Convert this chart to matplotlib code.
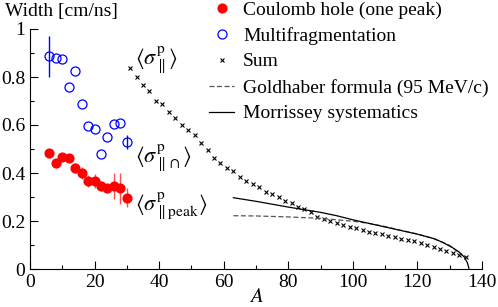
import numpy as np
import matplotlib
matplotlib.use("Agg")
from matplotlib import pyplot as plt
from matplotlib.ticker import MultipleLocator
from matplotlib.lines import Line2D

plt.rcParams['font.family'] = ['Liberation Serif', 'DejaVu Serif']
plt.rcParams['mathtext.fontset'] = 'stix'

# Coulomb hole (one peak)
A_peak = [6, 8, 10, 12, 14, 16, 18, 20, 22, 24, 26, 28, 30]
w_peak = [0.482, 0.440, 0.465, 0.461, 0.420, 0.401, 0.367, 0.367, 0.346, 0.336, 0.346, 0.336, 0.297]
e_peak = [0.02, 0.02, 0.01, 0.015, 0.02, 0.025, 0.025, 0.03, 0.02, 0.02, 0.055, 0.065, 0.04]

# Multifragmentation
A_multi = [6, 8, 10, 12, 14, 16, 18, 20, 22, 24, 26, 28, 30]
w_multi = [0.887, 0.880, 0.876, 0.760, 0.825, 0.686, 0.597, 0.582, 0.479, 0.550, 0.605, 0.610, 0.530]
e_multi = [0.085, 0.0, 0.0, 0.0, 0.0, 0.0, 0.0, 0.0, 0.0, 0.0, 0.0, 0.0, 0.03]

# Sum
A_sum = list(range(31, 136, 2))
w_sum = [0.836, 0.799, 0.768, 0.740, 0.702, 0.688, 0.656, 0.631, 0.600, 0.579,
         0.558, 0.527, 0.495, 0.464, 0.440, 0.420, 0.408, 0.382, 0.368, 0.354,
         0.340, 0.320, 0.312, 0.299, 0.285, 0.274, 0.260, 0.249, 0.238, 0.218,
         0.207, 0.199, 0.190, 0.182, 0.174, 0.169, 0.162, 0.155, 0.149, 0.145,
         0.139, 0.135, 0.125, 0.121, 0.117, 0.107, 0.100, 0.093, 0.083, 0.076,
         0.065, 0.058, 0.051]

# Goldhaber formula (95 MeV/c)
A_gold = [63, 70, 80, 90, 100, 105, 110, 115, 120, 125, 130, 134]
w_gold = [0.222, 0.221, 0.217, 0.211, 0.199, 0.190, 0.177, 0.161, 0.146, 0.127, 0.098, 0.055]

# Morrissey systematics
A_morr = [63, 70, 75, 80, 85, 90, 95, 100, 105, 110, 115, 120, 125, 128, 131, 133, 134.5, 135.5, 136]
w_morr = [0.297, 0.282, 0.270, 0.258, 0.247, 0.236, 0.222, 0.205, 0.190, 0.175, 0.160,
          0.145, 0.127, 0.110, 0.088, 0.070, 0.050, 0.025, 0.0]

labels = ['Coulomb hole (one peak)', 'Multifragmentation', 'Sum',
          'Goldhaber formula (95 MeV/c)', 'Morrissey systematics']

fig = plt.figure(figsize=(4.98, 3.07), dpi=100)
ax = fig.add_axes([30/498, 38/307, 452/498, 240/307])

ax.errorbar(A_peak, w_peak, yerr=e_peak, fmt='o', color='red', ecolor='#ff5050',
            markersize=6.3, elinewidth=1, capsize=0)
ax.errorbar(A_multi, w_multi, yerr=e_multi, fmt='o', color='blue', mfc='none',
            markersize=6.5, mew=0.9, elinewidth=1, capsize=0)
ax.plot(A_sum, w_sum, 'x', color='black', markersize=3.5, mew=0.8)
ax.plot(A_gold, w_gold, '--', color='#555555', lw=0.9, dashes=(4, 2))
ax.plot(A_morr, w_morr, '-', color='black', lw=0.9)

ax.set_xlim(0, 140)
ax.set_ylim(0, 1)
ax.spines['top'].set_visible(False)
ax.spines['right'].set_visible(False)
ax.xaxis.set_major_locator(MultipleLocator(20))
ax.xaxis.set_minor_locator(MultipleLocator(10))
ax.yaxis.set_major_locator(MultipleLocator(0.2))
ax.yaxis.set_minor_locator(MultipleLocator(0.1))
ax.yaxis.set_major_formatter(plt.FuncFormatter(lambda v, p: ('%g' % round(v, 1))))
ax.tick_params(which='major', direction='in', length=6, labelsize=14, width=0.8)
ax.tick_params(which='minor', direction='in', length=3, width=0.8)
ax.set_xlabel('$A$', fontsize=15, labelpad=-2)

fig.text(5/498, 1 - 3/307, 'Width [cm/ns]', fontsize=14, va='top', ha='left')

ax.text(32.5, 0.87, r'$\langle\sigma^{\rm p}_{\parallel}\rangle$', fontsize=16, va='center')
ax.text(32.5, 0.46, r'$\langle\sigma^{\rm p}_{\parallel\cap}\rangle$', fontsize=16, va='center')
ax.text(32.5, 0.26, r'$\langle\sigma^{\rm p}_{\parallel{\rm peak}}\rangle$', fontsize=16, va='center')

# legend entries without error bars, as in the original
handles = [
    Line2D([], [], ls='none', marker='o', color='red', markersize=6.3),
    Line2D([], [], ls='none', marker='o', color='blue', mfc='none', markersize=6.5, mew=0.9),
    Line2D([], [], ls='none', marker='x', color='black', markersize=3.5, mew=0.8),
    Line2D([], [], ls='--', color='#555555', lw=0.9, dashes=(4, 2)),
    Line2D([], [], ls='-', color='black', lw=0.9),
]
ax.legend(handles, labels,
          loc='upper left', bbox_to_anchor=(208/498, 1.0), bbox_transform=fig.transFigure,
          frameon=False, fontsize=14, handlelength=1.3, handletextpad=0.45,
          labelspacing=0.42, borderaxespad=0, borderpad=0.05)

fig.savefig('out.png', dpi=100)
